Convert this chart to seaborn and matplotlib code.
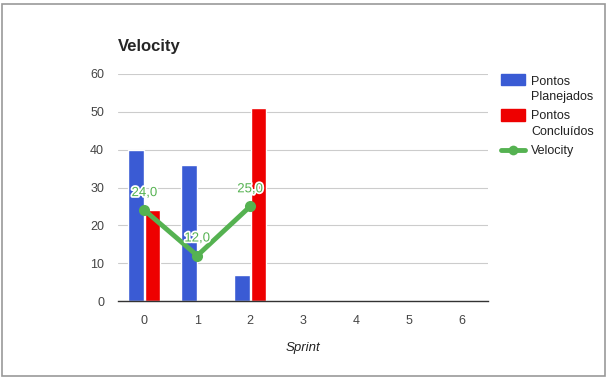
import pandas as pd
import numpy as np
import seaborn as sns
import matplotlib.pyplot as plt
import matplotlib.patheffects as pe
from matplotlib.patches import Rectangle
from matplotlib.lines import Line2D

# Dados
sprints = [0, 1, 2]
planejados = [40, 36, 7]
concluidos = [24, 0, 51]
velocity = [24, 12, 25]
ordem = [0, 1, 2, 3, 4, 5, 6]

cor_azul = '#3a5bd4'
cor_vermelho = '#ee0000'
cor_verde = '#55b251'

df = pd.DataFrame({
    'sprint': sprints * 2,
    'pontos': planejados + concluidos,
    'serie': ['Pontos Planejados'] * 3 + ['Pontos Concluídos'] * 3,
})

sns.set_style('white')
plt.rcParams['font.family'] = ['Liberation Sans', 'DejaVu Sans']

W, H = 608, 378
fig = plt.figure(figsize=(W / 100, H / 100), dpi=100)
ax = fig.add_axes([118/W, 1 - 301/H, 370/W, 227/H])

sns.barplot(data=df, x='sprint', y='pontos', hue='serie', order=ordem,
            palette=[cor_azul, cor_vermelho], width=0.62, gap=0.05,
            saturation=1, legend=False, ax=ax)

sns.lineplot(x=sprints, y=velocity, color=cor_verde, linewidth=3.5,
             marker='o', markersize=8, markeredgewidth=0, ax=ax)

for x, v in zip(sprints, velocity):
    ax.annotate(f'{v:.1f}'.replace('.', ','), (x, v), xytext=(0, 8),
                textcoords='offset points', ha='center', va='bottom',
                color=cor_verde, fontsize=9.5,
                path_effects=[pe.withStroke(linewidth=2.5, foreground='white')])

ax.set_ylim(0, 60)
ax.set_xlim(-0.5, 6.5)
ax.set_yticks(range(0, 61, 10))
ax.yaxis.grid(True, color='#cccccc', linewidth=0.8)
ax.set_axisbelow(True)
for lado in ['top', 'right', 'left']:
    ax.spines[lado].set_visible(False)
ax.spines['bottom'].set_color('#333333')
ax.spines['bottom'].set_linewidth(1)
ax.tick_params(axis='both', length=0, labelsize=9, colors='#444444', pad=10)
ax.set_xlabel('')
ax.set_ylabel('')
fig.text(303/W, 1 - 348/H, 'Sprint', fontstyle='italic', fontsize=9.5,
         color='#222222', ha='center', va='center')
fig.text(118/W, 1 - 47/H, 'Velocity', fontsize=12, fontweight='bold',
         va='center', ha='left')

# Legenda desenhada à mão (texto alinhado como no Google Sheets)
def px(x, y):
    return x / W, 1 - y / H

fig.patches.append(Rectangle(px(501, 85), 24/W, 11/H, transform=fig.transFigure,
                             color=cor_azul))
fig.patches.append(Rectangle(px(501, 121), 24/W, 12/H, transform=fig.transFigure,
                             color=cor_vermelho))
fig.lines.append(Line2D([501/W, 525/W], [1 - 150/H] * 2, transform=fig.transFigure,
                        color=cor_verde, linewidth=3.5))
fig.lines.append(Line2D([513/W], [1 - 150/H], transform=fig.transFigure,
                        color=cor_verde, marker='o', markersize=7, markeredgewidth=0))
for y, txt in [(82, 'Pontos'), (97, 'Planejados'), (116, 'Pontos'),
               (132, 'Concluídos'), (151, 'Velocity')]:
    fig.text(531/W, 1 - y/H, txt, fontsize=9, color='#222222', va='center', ha='left')

fig.patches.append(Rectangle((2/W, 2/H), 1 - 5/W, 1 - 6/H, transform=fig.transFigure,
                             fill=False, edgecolor='#999999', linewidth=1.2))

fig.savefig('out.png', dpi=100)
